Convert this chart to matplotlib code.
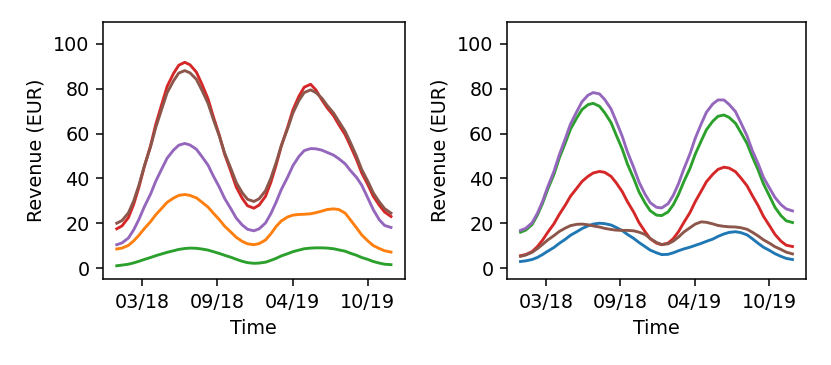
import pandas as pd
import numpy as np
import matplotlib
matplotlib.use('Agg')
import matplotlib.pyplot as plt
import matplotlib.dates as mdates
import matplotlib.ticker as mticker

# readings every half month (1st and 15th), Jan 2018 .. Jan 2020
dates = pd.date_range('2018-01-01', '2020-01-01', freq='SMS')

# left panel
left_red = [17.5, 18.8, 22.5, 28.4, 36.1, 45.0, 54.6, 64.2, 73.2, 81.0, 86.8, 90.5, 91.8,
            90.7, 87.4, 82.3, 75.5, 67.6, 59.3, 50.9, 43.0, 36.2, 31.1, 27.8, 26.7,
            28.1, 32.0, 38.1, 45.8, 54.4, 62.9, 70.6, 76.7, 80.7, 82.0,
            79.5, 75.0, 71.5, 68.0, 64.0, 59.5, 54.5, 48.5, 42.5, 37.0, 32.0, 28.0, 25.0, 23.0]
left_brown = [20.0, 21.2, 24.6, 29.9, 37.0, 45.3, 54.1, 62.8, 71.1, 78.2, 83.5, 87.0, 88.1,
              87.1, 84.2, 79.6, 73.5, 66.4, 58.9, 51.4, 44.3, 38.2, 33.6, 30.7, 29.7,
              30.9, 34.5, 40.0, 46.9, 54.6, 62.3, 69.2, 74.8, 78.3, 79.5,
              78.3, 75.8, 72.6, 69.2, 65.5, 61.0, 56.0, 50.0, 44.0, 38.5, 33.5, 29.5, 26.5, 24.5]
left_purple = [10.4, 11.2, 13.4, 17.0, 21.7, 27.2, 33.0, 38.8, 44.3, 49.0, 52.6, 54.8, 55.6,
               54.9, 53.0, 49.9, 45.9, 41.1, 36.1, 31.1, 26.4, 22.3, 19.2, 17.3, 16.6,
               17.5, 20.1, 24.2, 29.3, 35.0, 40.6, 45.7, 49.8, 52.4, 53.3,
               53.2, 52.6, 51.6, 50.4, 48.8, 46.5, 43.5, 40.5, 37.0, 31.0, 26.0, 21.5, 19.0, 18.1]
left_orange = [8.5, 8.9, 10.1, 12.1, 14.6, 17.5, 20.7, 23.8, 26.7, 29.3, 31.2, 32.4, 32.8,
               32.4, 31.3, 29.5, 27.2, 24.5, 21.6, 18.7, 16.0, 13.7, 11.9, 10.8, 10.4,
               10.9, 12.5, 15.2, 18.5, 21.0, 22.8, 23.6, 23.9, 24.0, 24.2,
               24.7, 25.4, 26.1, 26.4, 26.1, 24.5, 21.5, 18.0, 14.8, 12.0, 10.0, 8.7, 7.7, 7.1]
left_green = [1.0, 1.3, 1.7, 2.3, 3.0, 3.8, 4.7, 5.5, 6.3, 7.0, 7.7, 8.3, 8.7,
              8.9, 8.8, 8.5, 8.0, 7.3, 6.5, 5.7, 4.8, 3.9, 3.0, 2.4, 2.1,
              2.2, 2.6, 3.4, 4.3, 5.4, 6.4, 7.3, 8.0, 8.6, 8.9,
              9.0, 9.0, 8.9, 8.6, 8.1, 7.5, 6.6, 5.7, 4.7, 3.8, 2.9, 2.2, 1.7, 1.5]

# right panel
right_purple = [16.8, 17.7, 20.2, 24.3, 29.7, 36.2, 43.2, 50.5, 57.6, 64.2, 69.8, 74.2, 77.1,
                78.3, 77.7, 75.2, 71.0, 65.4, 58.8, 51.8, 44.8, 38.4, 33.0, 29.2, 27.1,
                26.8, 28.7, 32.4, 37.6, 44.0, 51.0, 57.9, 64.3, 69.5, 73.2,
                75.0, 75.0, 73.0, 69.8, 65.0, 59.0, 52.5, 46.5, 40.5, 35.5, 31.5, 28.3, 26.4, 25.5]
right_green = [16.0, 16.9, 19.4, 23.5, 28.8, 35.1, 41.9, 49.0, 55.7, 61.9, 67.0, 70.7, 72.9,
               73.5, 72.2, 69.3, 64.9, 59.3, 53.1, 46.4, 39.9, 34.0, 29.1, 25.6, 23.6,
               23.4, 25.0, 28.2, 32.8, 38.4, 44.5, 50.8, 56.7, 61.7, 65.5,
               67.7, 68.3, 67.2, 64.6, 60.6, 55.6, 49.8, 43.7, 37.6, 31.9, 27.1, 23.4, 21.1, 20.3]
right_red = [5.5, 6.0, 7.3, 9.5, 12.4, 15.9, 19.8, 23.9, 28.0, 32.0, 35.6, 38.6, 40.9,
             42.4, 43.1, 42.7, 40.9, 38.0, 34.1, 29.6, 24.9, 20.3, 16.3, 13.1, 11.1,
             10.4, 11.1, 13.1, 16.2, 20.2, 24.8, 29.6, 34.3, 38.5, 41.8,
             44.0, 45.0, 44.6, 43.0, 40.3, 36.7, 32.4, 27.8, 23.1, 18.7, 15.0, 12.0, 10.2, 9.6]
right_brown = [5.2, 5.8, 7.0, 8.6, 10.5, 12.5, 14.5, 16.3, 17.8, 18.9, 19.5, 19.6, 19.3,
               18.8, 18.3, 17.7, 17.2, 16.9, 16.8, 16.8, 16.6, 16.0, 15.0, 13.2, 11.4,
               10.5, 10.8, 12.0, 13.8, 16.0, 18.0, 19.6, 20.6, 20.4, 19.7,
               19.0, 18.6, 18.4, 18.3, 18.0, 17.3, 16.0, 14.3, 12.6, 11.0, 9.5, 8.3, 7.1, 6.3]
right_blue = [2.9, 3.2, 3.8, 4.7, 6.0, 7.5, 9.2, 11.0, 12.8, 14.6, 16.2, 17.6, 18.8,
              19.6, 20.0, 19.8, 19.2, 18.1, 16.7, 15.0, 13.2, 11.4, 9.6, 8.0, 6.8,
              6.0, 6.1, 6.8, 7.7, 8.5, 9.3, 10.1, 11.0, 11.9, 12.9,
              14.1, 15.2, 15.9, 16.2, 15.8, 14.8, 13.1, 11.0, 9.3, 7.8, 6.4, 5.2, 4.3, 3.8]

left_series = [(left_orange, 'tab:orange'), (left_green, 'tab:green'), (left_red, 'tab:red'),
               (left_purple, 'tab:purple'), (left_brown, 'tab:brown')]
right_series = [(right_blue, 'tab:blue'), (right_green, 'tab:green'), (right_red, 'tab:red'),
                (right_purple, 'tab:purple'), (right_brown, 'tab:brown')]

fig = plt.figure(figsize=(831 / 138, 365 / 138), dpi=138)
ax1 = fig.add_axes([0.124, 0.235, 0.363, 0.706])
ax2 = fig.add_axes([0.610, 0.235, 0.360, 0.706])

for ax, series in [(ax1, left_series), (ax2, right_series)]:
    for values, color in series:
        ax.plot(dates, values, color=color, linewidth=1.5)
    ax.set_ylim(-5, 110)
    ax.xaxis.set_major_locator(mticker.MultipleLocator(200))
    ax.xaxis.set_major_formatter(mdates.DateFormatter('%m/%y'))
    ax.set_xlabel('Time')
    ax.set_ylabel('Revenue (EUR)')

fig.savefig('out.png', dpi=138)
